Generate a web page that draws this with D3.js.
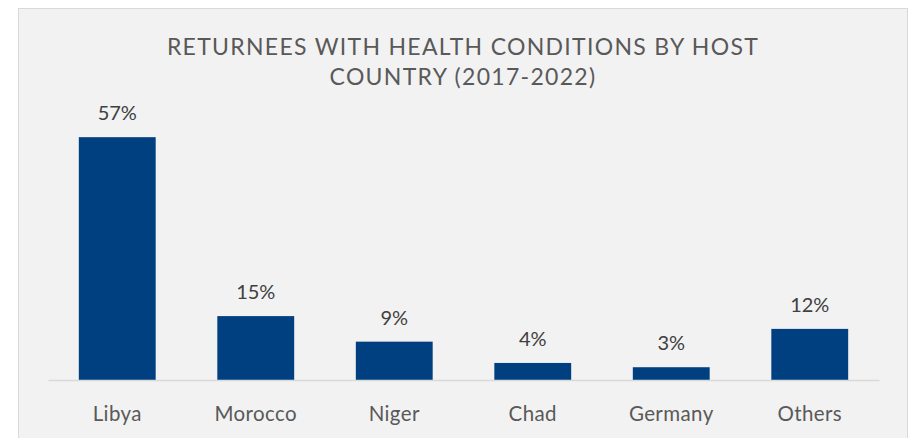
<!DOCTYPE html>
<html>
<head>
<meta charset="utf-8">
<script src="https://cdn.jsdelivr.net/npm/d3@7"></script>
<style>
  body { margin: 0; background: #fff; }
  svg { display: block; font-family: Lato, 'Open Sans', sans-serif; }
</style>
</head>
<body>
<svg id="chart" width="910" height="438"></svg>
<script>
const countries = ['Libya', 'Morocco', 'Niger', 'Chad', 'Germany', 'Others']
const shares = [57, 15, 9, 4, 3, 12]
const titleLines = ['RETURNEES WITH HEALTH CONDITIONS BY HOST', 'COUNTRY (2017-2022)']

const svg = d3.select('#chart')

// chart area box
svg.append('rect')
  .attr('x', 18.5)
  .attr('y', 8.5)
  .attr('width', 889)
  .attr('height', 440)
  .attr('fill', '#f2f2f2')
  .attr('stroke', '#d9d9d9')

const x = d3.scaleBand()
  .domain(countries)
  .range([48, 879])
  .paddingInner(0.445)
  .paddingOuter(0.2225)

const y = d3.scaleLinear()
  .domain([0, 60])
  .range([380, 124.4])

const data = countries.map((c, i) => ({ country: c, value: shares[i] }))

// title
svg.append('g').selectAll('text')
  .data(titleLines)
  .enter().append('text')
  .attr('x', 463)
  .attr('y', (d, i) => 55 + i * 30)
  .attr('text-anchor', 'middle')
  .attr('font-size', 23)
  .attr('letter-spacing', 1.3)
  .attr('fill', '#595959')
  .text(d => d)

// bars
svg.append('g').selectAll('rect')
  .data(data)
  .enter().append('rect')
  .attr('x', d => x(d.country))
  .attr('y', d => y(d.value))
  .attr('width', x.bandwidth())
  .attr('height', d => y(0) - y(d.value))
  .attr('fill', '#004080')

// baseline axis
const axis = svg.append('g')
  .attr('transform', 'translate(0,' + y(0) + ')')
  .call(d3.axisBottom(x).tickSize(0).tickPadding(26))
axis.select('.domain').attr('stroke', '#d9d9d9').attr('stroke-width', 1.5)
axis.selectAll('text')
  .attr('font-family', 'Lato, sans-serif')
  .attr('font-size', 20.5)
  .attr('letter-spacing', 0.4)
  .attr('fill', '#595959')

// value labels
svg.append('g').selectAll('text')
  .data(data)
  .enter().append('text')
  .attr('x', d => x(d.country) + x.bandwidth() / 2)
  .attr('y', d => y(d.value) - 17)
  .attr('text-anchor', 'middle')
  .attr('font-size', 20)
  .attr('fill', '#404040')
  .text(d => d.value + '%')
</script>
</body>
</html>
